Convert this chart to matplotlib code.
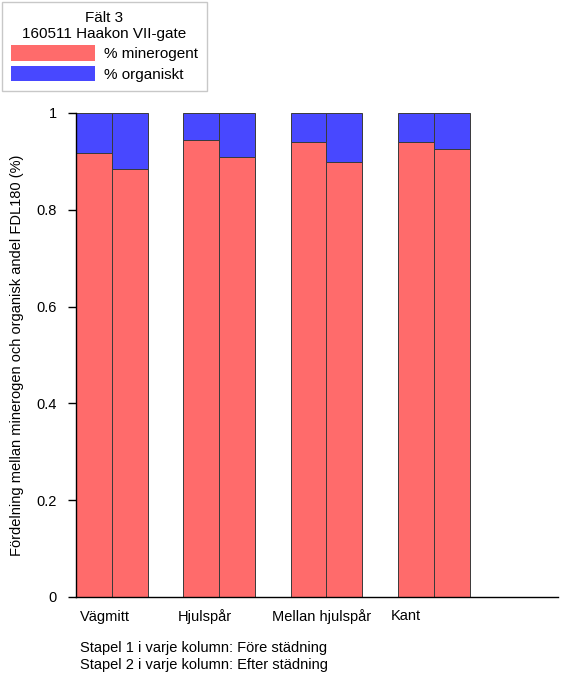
import numpy as np
import matplotlib.pyplot as plt
from matplotlib.patches import Patch

plt.rcParams['font.family'] = ['Liberation Sans', 'DejaVu Sans']

# --- data ---
kategorier = ['Vägmitt', 'Hjulspår', 'Mellan hjulspår', 'Kant']
minerogent_fore = [0.917, 0.944, 0.941, 0.941]
minerogent_efter = [0.884, 0.910, 0.898, 0.926]
organiskt_fore = [1 - v for v in minerogent_fore]
organiskt_efter = [1 - v for v in minerogent_efter]
yticks = [0, 0.2, 0.4, 0.6, 0.8, 1]
ytick_labels = ['0', '0.2', '0.4', '0.6', '0.8', '1']

# label placement relative to group centre (labels are not exactly centred in original)
label_offset = [-0.065, -0.135, -0.047, -0.265]

ROD = '#ff6b6b'
BLA = '#4848ff'
KANT = '#3a3a3a'
FS = 10.5

fig = plt.figure(figsize=(5.61, 6.93), dpi=100)
ax = fig.add_axes([76 / 561, 1 - 597 / 693, (558 - 76) / 561, (597 - 113) / 693])

x = np.arange(len(kategorier))
w = 0.335

ax.bar(x - w / 2, minerogent_fore, w, color=ROD, edgecolor=KANT, linewidth=0.7)
ax.bar(x - w / 2, organiskt_fore, w, bottom=minerogent_fore, color=BLA, edgecolor=KANT, linewidth=0.7)
ax.bar(x + w / 2, minerogent_efter, w, color=ROD, edgecolor=KANT, linewidth=0.7)
ax.bar(x + w / 2, organiskt_efter, w, bottom=minerogent_efter, color=BLA, edgecolor=KANT, linewidth=0.7)

ax.set_xlim(-w, (558 - 111) / 107.5)
ax.set_ylim(0, 1)
ax.set_yticks(yticks)
ax.set_yticklabels(ytick_labels, fontsize=FS)
ax.tick_params(axis='y', direction='out', length=6, width=1, pad=8)
ax.set_xticks(x + np.array(label_offset))
ax.set_xticklabels(kategorier, fontsize=FS)
ax.tick_params(axis='x', length=0, pad=9)

ax.spines['top'].set_visible(False)
ax.spines['right'].set_visible(False)
ax.spines['left'].set_linewidth(1)
ax.spines['bottom'].set_linewidth(1)

ax.set_ylabel('Fördelning mellan minerogen och organisk andel FDL180 (%)', fontsize=FS, labelpad=9)

# legend top-left
handles = [Patch(facecolor=ROD, edgecolor='none', label='% minerogent'),
           Patch(facecolor=BLA, edgecolor='none', label='% organiskt')]
leg = fig.legend(handles=handles, title='Fält 3\n160511 Haakon VII-gate',
                 loc='upper left', bbox_to_anchor=(0.0, 1.0), fontsize=11,
                 title_fontsize=11, handlelength=5.5, handleheight=1.15,
                 handletextpad=0.6, labelspacing=0.3, borderpad=0.6,
                 borderaxespad=0.1, fancybox=False, framealpha=1,
                 edgecolor='#c8c8c8')
leg.get_frame().set_linewidth(1)
leg.get_title().set_multialignment('center')

fig.text(80 / 561, 1 - 648 / 693, 'Stapel 1 i varje kolumn: Före städning', fontsize=FS, va='center')
fig.text(80 / 561, 1 - 665 / 693, 'Stapel 2 i varje kolumn: Efter städning', fontsize=FS, va='center')

fig.savefig('out.png', dpi=100)
